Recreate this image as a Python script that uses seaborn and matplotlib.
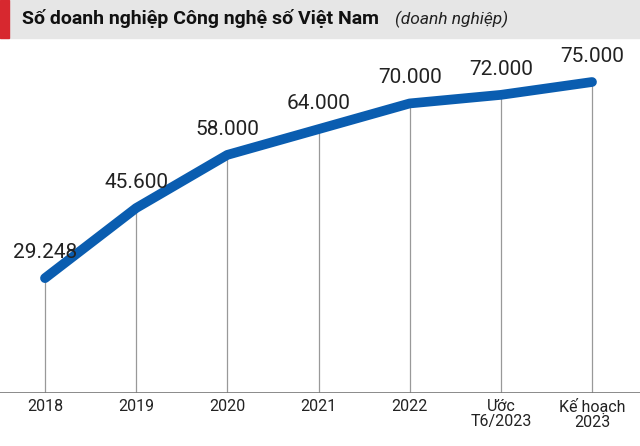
import matplotlib
matplotlib.use("Agg")
import matplotlib.pyplot as plt
import seaborn as sns
import pandas as pd

categories = ["2018", "2019", "2020", "2021", "2022", "Ước\nT6/2023", "Kế hoạch\n2023"]
values = [29248, 45600, 58000, 64000, 70000, 72000, 75000]
labels = ["29.248", "45.600", "58.000", "64.000", "70.000", "72.000", "75.000"]

sns.set_style("white")
plt.rcParams['font.family'] = ['Roboto', 'DejaVu Sans']

df = pd.DataFrame({"x": range(len(categories)), "v": values})
fig = plt.figure(figsize=(6.4, 4.46), dpi=100)
ax = fig.add_axes([45/640 - 0.07, 53/446, 1.0, (393-40)/446])
# x positions 45..592 px; set xlim so they map correctly
x0, x1 = 45, 592
step = (x1 - x0) / 6
ax.set_position([0, 53/446, 1, (393-40)/446])
ax.set_xlim(-x0/step, (640 - x0)/step)
ax.set_ylim(2450, 84800)

for i, v in enumerate(values):
    ax.vlines(i, 2450, v, color="#999999", lw=0.9, zorder=1)
ax.axhline(2450, color="#777777", lw=1.2)
sns.lineplot(data=df, x="x", y="v", ax=ax, color="#0a5db0", lw=7, zorder=3)
for i, (v, t) in enumerate(zip(values, labels)):
    ax.text(i, v + 3800, t, ha="center", va="bottom", fontsize=15, color="#222222")
ax.set_xticks(range(len(categories)))
ax.set_xticklabels(categories, fontsize=11.5, color="#222222", linespacing=1.0)
ax.tick_params(axis="x", length=0, pad=4)
ax.set_yticks([])
ax.set_xlabel(""); ax.set_ylabel("")
for s in ax.spines.values():
    s.set_visible(False)

# title bar
fig.patches.append(plt.Rectangle((0, 1 - 38/446), 1, 38/446, transform=fig.transFigure, color="#e6e6e6", zorder=0))
fig.patches.append(plt.Rectangle((0, 1 - 38/446), 9/640, 38/446, transform=fig.transFigure, color="#d7282f", zorder=1))
fig.text(22/640, 1 - 19/446, "Số doanh nghiệp Công nghệ số Việt Nam", fontsize=14, fontweight="bold", va="center", color="#111111")
fig.text(395/640, 1 - 19/446, "(doanh nghiệp)", fontsize=12.5, style="italic", va="center", color="#222222")
fig.savefig("out.png", dpi=100)
